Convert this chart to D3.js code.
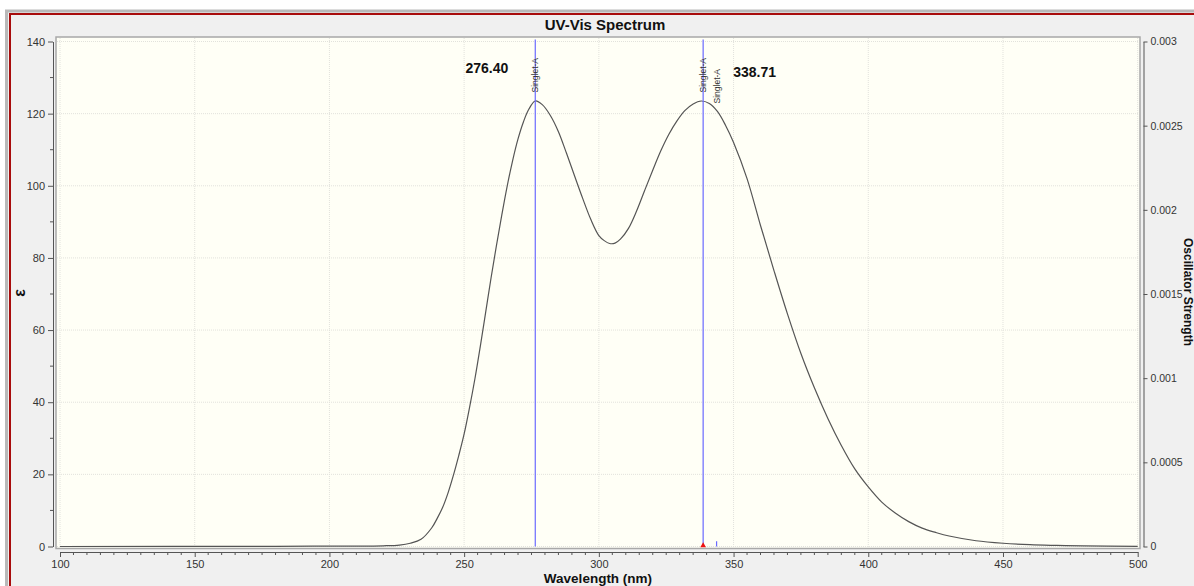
<!DOCTYPE html>
<html>
<head>
<meta charset="utf-8">
<script src="https://cdn.jsdelivr.net/npm/d3@7"></script>
<style>
  body { margin: 0; background: #ffffff; }
  text { font-family: "Liberation Sans", Arial, sans-serif; }
</style>
</head>
<body>
<svg id="chart"></svg>
<script>
// spectrum
var wavelength = [100, 180, 200, 220, 226, 230, 234, 238, 240, 242, 244, 246, 248, 250, 252, 254, 256, 258, 260, 262,
  264, 266, 268, 270, 272, 274, 276.4, 279, 282, 285, 288, 291, 294, 297, 300, 302, 304, 306, 308, 311, 314,
  317, 320, 323, 326, 329, 332, 335, 338, 341, 344, 347, 350, 355, 360, 365, 370, 375, 380, 385, 390,
  395, 400, 405, 410, 415, 420, 425, 430, 440, 450, 460, 470, 480, 500]
var epsilon = [0, 0.05, 0.1, 0.2, 0.4, 0.9, 2.0, 5.2, 7.8, 10.8, 14.8, 19.7, 25.2, 31.2, 38.5, 46.5, 55.5, 65, 74.5, 83.5,
  92, 100, 107, 113, 117.7, 121.2, 123.5, 122.5, 119.5, 115, 109, 102.7, 96.5, 90.7, 86.2, 84.8, 84.0, 84.1, 85.2, 88.2, 93,
  98.7, 104.3, 109.7, 114.3, 118, 120.9, 122.7, 123.5, 122.8, 120.6, 116.8, 112, 102, 89, 76.5, 64.5, 53.5, 44, 35.5, 28,
  21.5, 16.5, 12.3, 9.3, 6.9, 5.1, 3.9, 2.9, 1.6, 0.9, 0.5, 0.3, 0.15, 0.05]

// transitions (oscillator strength axis on the right)
var transWl = [276.40, 338.71, 343.7]
var transF = [0.0035, 0.0035, 0.00002]
var transLabel = ["Singlet-A", "Singlet-A", "Singlet-A"]

var peakWl = [276.40, 338.71]
var peakText = ["276.40", "338.71"]

var xTicks = [100, 150, 200, 250, 300, 350, 400, 450, 500]
var yTicks = [0, 20, 40, 60, 80, 100, 120, 140]
var fTicks = [0, 0.0005, 0.001, 0.0015, 0.002, 0.0025, 0.003]

var width = 1194
var height = 586

var plot = { left: 56, right: 1140, top: 37, bottom: 548.5 }

var svg = d3.select("#chart")
  .attr("width", width)
  .attr("height", height)

// window frame
svg.append("rect")
  .attr("x", 6.5).attr("y", 11)
  .attr("width", 1300).attr("height", 700)
  .attr("fill", "#f0f0f0")
  .attr("stroke", "#b9b9b9")
  .attr("stroke-width", 3)
svg.append("rect")
  .attr("x", 10).attr("y", 14)
  .attr("width", 1300).attr("height", 700)
  .attr("fill", "none")
  .attr("stroke", "#a80c0c")
  .attr("stroke-width", 2)

// title
svg.append("text")
  .attr("x", 605)
  .attr("y", 30)
  .attr("text-anchor", "middle")
  .attr("font-size", "15px")
  .attr("font-weight", "bold")
  .attr("fill", "#111")
  .text("UV-Vis Spectrum")

// plot area
svg.append("rect")
  .attr("x", plot.left).attr("y", plot.top)
  .attr("width", plot.right - plot.left)
  .attr("height", plot.bottom - plot.top)
  .attr("fill", "#fffff6")
  .attr("stroke", "#a8a8a8")
  .attr("stroke-width", 1.5)

var xScale = d3.scaleLinear().domain([100, 500]).range([60, 1137.7])
var yScale = d3.scaleLinear().domain([0, 140]).range([546.5, 41.5])
var fScale = d3.scaleLinear().domain([0, 0.003]).range([546.5, 41.5]).clamp(true)

// grid
svg.append("g").selectAll("line")
  .data(xTicks)
  .enter().append("line")
  .attr("x1", d => xScale(d)).attr("x2", d => xScale(d))
  .attr("y1", plot.top + 1).attr("y2", plot.bottom - 1)
  .attr("stroke", "#e2e2dc")
  .attr("stroke-dasharray", "1,1")
svg.append("g").selectAll("line")
  .data(yTicks)
  .enter().append("line")
  .attr("x1", plot.left + 1).attr("x2", plot.right - 1)
  .attr("y1", d => yScale(d)).attr("y2", d => yScale(d))
  .attr("stroke", "#e2e2dc")
  .attr("stroke-dasharray", "1,1")

svg.append("clipPath").attr("id", "clip")
  .append("rect")
  .attr("x", plot.left + 1).attr("y", plot.top + 1)
  .attr("width", plot.right - plot.left - 2)
  .attr("height", plot.bottom - plot.top - 2)

// spectrum curve
var lineGen = d3.line()
  .x((d, i) => xScale(wavelength[i]))
  .y(d => yScale(d))
  .curve(d3.curveCatmullRom.alpha(0.5))

svg.append("path")
  .datum(epsilon)
  .attr("clip-path", "url(#clip)")
  .attr("d", lineGen)
  .attr("fill", "none")
  .attr("stroke", "#555")
  .attr("stroke-width", 1.2)

// transition sticks
var sticks = svg.append("g").attr("clip-path", "url(#clip)")
sticks.selectAll("line")
  .data(transWl)
  .enter().append("line")
  .attr("x1", d => xScale(d)).attr("x2", d => xScale(d))
  .attr("y1", fScale(0))
  .attr("y2", (d, i) => fScale(transF[i]) - 2)
  .attr("stroke", "#6a6aff")
  .attr("stroke-width", 1.2)

// labels on sticks, pushed down when they sit close to the previous one
var labelG = svg.append("g")
transWl.forEach(function(w, i){
  var shift = (i > 0 && xScale(w) - xScale(transWl[i-1]) < 20) ? 11 : 0
  labelG.append("text")
    .attr("transform", `translate(${xScale(w) + 3},${58 + shift}) rotate(-90)`)
    .attr("text-anchor", "end")
    .attr("font-size", "8.5px")
    .attr("fill", "#333")
    .text(transLabel[i])
})

// selected transition marker
svg.append("path")
  .attr("d", d3.symbol().type(d3.symbolTriangle).size(14))
  .attr("transform", `translate(${xScale(peakWl[1])},${yScale(0) - 1})`)
  .attr("fill", "#ee1111")

// peak labels
svg.append("text")
  .attr("x", xScale(peakWl[0]) - 27)
  .attr("y", 73)
  .attr("text-anchor", "end")
  .attr("font-size", "14px")
  .attr("font-weight", "bold")
  .attr("fill", "#111")
  .text(peakText[0])
svg.append("text")
  .attr("x", xScale(peakWl[1]) + 30)
  .attr("y", 77)
  .attr("font-size", "14px")
  .attr("font-weight", "bold")
  .attr("fill", "#111")
  .text(peakText[1])

// left axis
var yAxisGen = d3.axisLeft(yScale).tickValues(yTicks).tickSize(5).tickSizeOuter(0).tickPadding(3)
var yAxis = svg.append("g")
  .attr("transform", "translate(53,0)")
  .call(yAxisGen)
yAxis.append("g").selectAll("line")
  .data(d3.range(10, 140, 20))
  .enter().append("line")
  .attr("x1", -3).attr("x2", 0)
  .attr("y1", d => yScale(d)).attr("y2", d => yScale(d))
  .attr("stroke", "#555")

// bottom axis
var xAxisGen = d3.axisBottom(xScale).tickValues(xTicks).tickSize(5).tickSizeOuter(0).tickPadding(3)
var xAxis = svg.append("g")
  .attr("transform", "translate(0,552)")
  .call(xAxisGen)
xAxis.append("g").selectAll("line")
  .data(d3.range(105, 500, 5).filter(d => d % 50 != 0))
  .enter().append("line")
  .attr("x1", d => xScale(d)).attr("x2", d => xScale(d))
  .attr("y1", 0).attr("y2", 3)
  .attr("stroke", "#555")

// right axis
var fAxisGen = d3.axisRight(fScale).tickValues(fTicks).tickSize(4).tickSizeOuter(0).tickPadding(3)
  .tickFormat(d => d == 0 ? "0" : String(+d.toFixed(4)))
var fAxis = svg.append("g")
  .attr("transform", "translate(1143.5,0)")
  .call(fAxisGen)

svg.selectAll(".domain").attr("stroke", "#555")
svg.selectAll(".tick line").attr("stroke", "#555")
svg.selectAll(".tick text")
  .attr("font-family", "'Liberation Sans', Arial, sans-serif")
  .attr("font-size", "11px")
  .attr("fill", "#333")
fAxis.selectAll(".tick text").attr("font-size", "10.5px")

// axis titles
svg.append("text")
  .attr("x", 598)
  .attr("y", 583)
  .attr("text-anchor", "middle")
  .attr("font-size", "13.5px")
  .attr("font-weight", "bold")
  .attr("fill", "#111")
  .text("Wavelength (nm)")

svg.append("text")
  .attr("transform", "translate(25,293) rotate(-90)")
  .attr("text-anchor", "middle")
  .attr("font-size", "16px")
  .attr("font-weight", "bold")
  .attr("fill", "#111")
  .text("ε")

svg.append("text")
  .attr("transform", "translate(1184,292) rotate(90)")
  .attr("text-anchor", "middle")
  .attr("font-size", "12px")
  .attr("font-weight", "bold")
  .attr("fill", "#111")
  .text("Oscillator Strength")
</script>
</body>
</html>
